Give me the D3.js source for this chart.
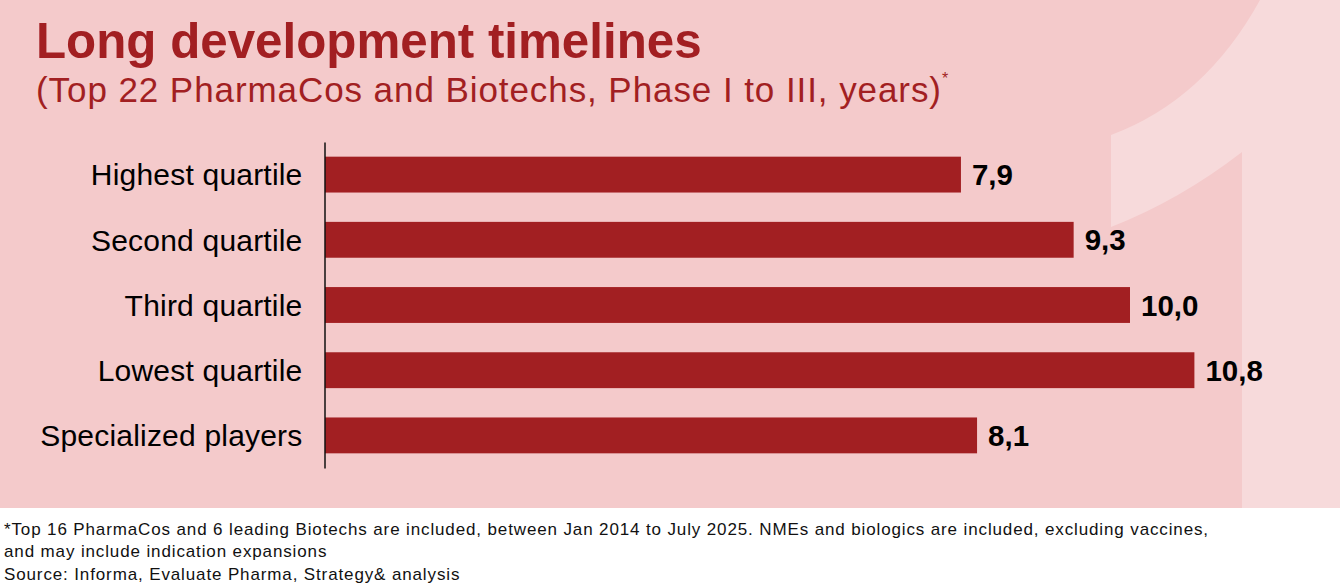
<!DOCTYPE html>
<html>
<head>
<meta charset="utf-8">
<script src="https://cdn.jsdelivr.net/npm/d3@7"></script>
<style>
  body { margin: 0; background: #fff; }
  svg { display: block; font-family: "Liberation Sans", Arial, sans-serif; }
</style>
</head>
<body>
<svg id="chart" width="1340" height="588"></svg>
<script>
// chart data
const categories = ["Highest quartile", "Second quartile", "Third quartile", "Lowest quartile", "Specialized players"];
const years = [7.9, 9.3, 10.0, 10.8, 8.1];
const valueLabels = ["7,9", "9,3", "10,0", "10,8", "8,1"];

const titleText = "Long development timelines";
const subtitleText = "(Top 22 PharmaCos and Biotechs, Phase I to III, years)";
const footnotes = [
    "*Top 16 PharmaCos and 6 leading Biotechs are included, between Jan 2014 to July 2025. NMEs and biologics are included, excluding vaccines,",
    "and may include indication expansions",
    "Source: Informa, Evaluate Pharma, Strategy& analysis"
];

const red = "#a21f22";
const svg = d3.select("#chart");

// pink panel + big "1" watermark
svg.append("rect")
    .attr("width", 1340)
    .attr("height", 508)
    .attr("fill", "#f4cacb");

svg.append("path")
    .attr("d", "M1260,0 L1340,0 L1340,508 L1242,508 L1242,152 Q1180,200 1111,227 L1111,135 Q1205,100 1260,0 Z")
    .attr("fill", "#f7dadb");

// titles
svg.append("text")
    .attr("x", 36)
    .attr("y", 58)
    .attr("fill", red)
    .attr("font-size", 49.3)
    .attr("font-weight", "bold")
    .text(titleText);

svg.append("text")
    .attr("x", 36)
    .attr("y", 102)
    .attr("fill", red)
    .attr("font-size", 35)
    .attr("textLength", 905)
    .attr("lengthAdjust", "spacing")
    .text(subtitleText);

svg.append("text")
    .attr("x", 942)
    .attr("y", 84)
    .attr("fill", red)
    .attr("font-size", 16)
    .text("*");

// scales
let x = d3.scaleLinear()
    .domain([0, 10.8])
    .range([325, 1194.4]);

let y = d3.scaleBand()
    .domain(categories)
    .range([142, 468])
    .paddingInner(0.45)
    .paddingOuter(0.225);

// bars
svg.selectAll("rect.bar")
    .data(years)
    .enter()
    .append("rect")
    .attr("class", "bar")
    .attr("x", x(0))
    .attr("y", (d, i) => y(categories[i]))
    .attr("width", d => x(d) - x(0))
    .attr("height", y.bandwidth())
    .attr("fill", red);

// value labels
svg.selectAll("text.val")
    .data(years)
    .enter()
    .append("text")
    .attr("class", "val")
    .attr("x", d => x(d) + 11)
    .attr("y", (d, i) => y(categories[i]) + y.bandwidth() / 2)
    .attr("dy", "0.36em")
    .attr("font-size", 29.5)
    .attr("font-weight", "bold")
    .attr("fill", "#000")
    .text((d, i) => valueLabels[i]);

// category axis
let axis = svg.append("g")
    .attr("transform", "translate(324.5,0)")
    .call(d3.axisLeft(y).tickSize(0).tickSizeOuter(0).tickPadding(22));

axis.select(".domain")
    .attr("stroke", "#111")
    .attr("stroke-width", 1.5);

axis.selectAll("text")
    .attr("font-size", 30)
    .attr("letter-spacing", 0.2)
    .attr("font-family", "Liberation Sans, Arial, sans-serif")
    .attr("fill", "#000")
    .attr("dy", "0.36em");

// footnotes
svg.selectAll("text.note")
    .data(footnotes)
    .enter()
    .append("text")
    .attr("class", "note")
    .attr("x", 4)
    .attr("y", (d, i) => [535, 557, 580][i])
    .attr("font-size", 17)
    .attr("letter-spacing", 0.87)
    .attr("fill", "#111")
    .text(d => d);
</script>
</body>
</html>
